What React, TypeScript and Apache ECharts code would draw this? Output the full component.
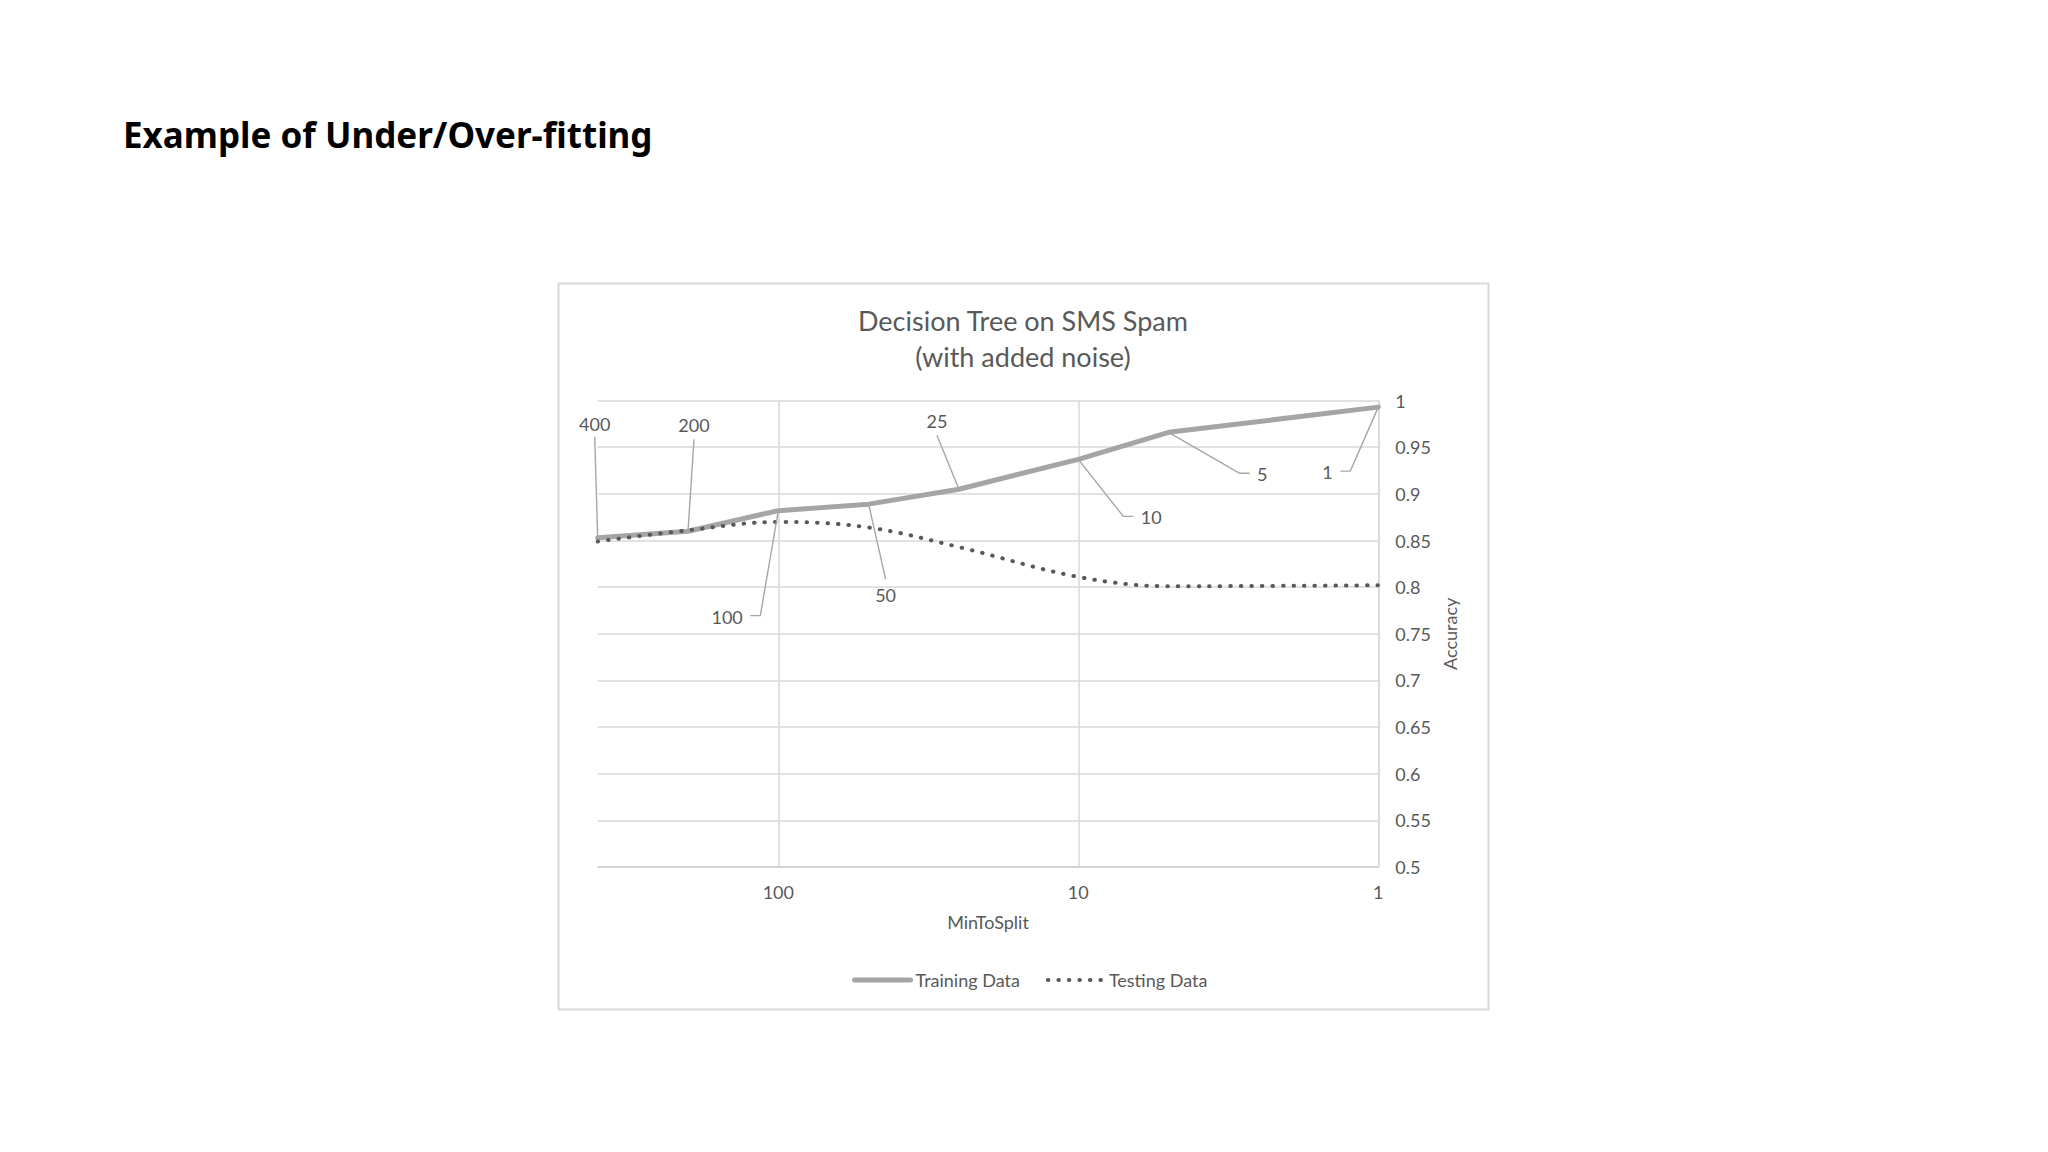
import React, { useEffect, useRef } from 'react';
import * as echarts from 'echarts';

// MinToSplit values (x, log scale, inverted) and accuracy per series
const minToSplit = [400, 200, 100, 50, 25, 10, 5, 1];
const trainingAcc = [0.853, 0.860, 0.882, 0.889, 0.905, 0.937, 0.966, 0.993];
const testingAcc = [0.849, 0.861, 0.870, 0.864, 0.843, 0.811, 0.801, 0.802];
const pointLabels = ['400', '200', '100', '50', '25', '10', '5', '1'];

const seriesNames = ['Training Data', 'Testing Data'];

// where each data label sits relative to its point (pixels)
type LabelPos = { kind: 'above' | 'below' | 'left' | 'right'; dx: number; dy: number; gap?: number };
const labelPlacement: LabelPos[] = [
  { kind: 'above', dx: -3, dy: -114, gap: 13 },
  { kind: 'above', dx: 6, dy: -106, gap: 14 },
  { kind: 'left', dx: -18, dy: 105 },
  { kind: 'below', dx: 17, dy: 91, gap: 16 },
  { kind: 'above', dx: -22, dy: -68, gap: 14 },
  { kind: 'right', dx: 45, dy: 57 },
  { kind: 'right', dx: 71, dy: 41 },
  { kind: 'left', dx: -28, dy: 64 },
];

const TEXT = '#595959';
const GRID = '#d9d9d9';
const TRAIN = '#a5a5a5';
const FONT = 'Lato';

const isPow10 = (v: number) => {
  const l = Math.log10(v);
  return Math.abs(l - Math.round(l)) < 1e-6;
};

export default function App() {
  const ref = useRef<HTMLDivElement>(null);

  useEffect(() => {
    if (!ref.current) return;
    const chart = echarts.init(ref.current, null, { renderer: 'svg' });

    const staticGraphic: any[] = [
      {
        type: 'text',
        x: 123,
        y: 134,
        style: {
          text: 'Example of Under/Over-fitting',
          fontFamily: '"Noto Sans"',
          fontWeight: 'bold',
          fontSize: 35,
          fill: '#000',
          verticalAlign: 'middle',
        },
      },
      {
        type: 'rect',
        shape: { x: 558.5, y: 283.5, width: 930, height: 726 },
        style: { fill: 'none', stroke: GRID, lineWidth: 2 },
        silent: true,
      },
    ];

    chart.setOption({
      animation: false,
      backgroundColor: '#fff',
      title: {
        text: 'Decision Tree on SMS Spam\n(with added noise)',
        left: 1023,
        top: 302,
        padding: 0,
        textAlign: 'center',
        textStyle: { fontFamily: FONT, fontSize: 27, fontWeight: 'normal', color: TEXT, lineHeight: 36 },
      },
      legend: {
        data: [
          { name: seriesNames[0], itemStyle: { opacity: 0 }, lineStyle: { width: 5, color: TRAIN } },
          { name: seriesNames[1], itemStyle: { opacity: 0 }, lineStyle: { width: 4, color: TEXT } },
        ],
        left: 852,
        top: 971,
        padding: 0,
        itemWidth: 56,
        itemHeight: 14,
        itemGap: 26,
        textStyle: { fontFamily: FONT, fontSize: 18, color: TEXT },
      },
      grid: { left: 597.7, right: 669.7, top: 400.6, bottom: 285 },
      xAxis: {
        type: 'log',
        logBase: 10,
        min: 1,
        max: 400,
        inverse: true,
        name: 'MinToSplit',
        nameLocation: 'middle',
        nameGap: 46,
        nameTextStyle: { fontFamily: FONT, fontSize: 18, color: TEXT },
        axisLine: { show: true, onZero: false, lineStyle: { color: '#cfcfcf', width: 1.5 } },
        axisTick: { show: false },
        axisLabel: {
          margin: 16,
          fontFamily: FONT,
          fontSize: 18,
          color: TEXT,
          formatter: (v: number) => (isPow10(v) ? String(Math.round(v)) : ''),
        },
        splitLine: { show: true, showMaxLine: false, lineStyle: { color: GRID, width: 1.5 } },
      },
      yAxis: {
        type: 'value',
        position: 'right',
        min: 0.5,
        max: 1,
        interval: 0.05,
        name: 'Accuracy',
        nameLocation: 'middle',
        nameRotate: 90,
        nameGap: 63,
        nameTextStyle: { fontFamily: FONT, fontSize: 18, color: TEXT },
        axisLine: { show: true, onZero: false, lineStyle: { color: GRID, width: 1.5 } },
        axisTick: { show: false },
        axisLabel: { margin: 17, fontFamily: FONT, fontSize: 18, color: TEXT },
        splitLine: { show: true, lineStyle: { color: GRID, width: 1.5 } },
      },
      series: [
        {
          name: seriesNames[0],
          type: 'line',
          data: minToSplit.map((m, i) => [m, trainingAcc[i]]),
          symbol: 'none',
          lineStyle: { color: TRAIN, width: 5, cap: 'round', join: 'round' },
          itemStyle: { color: TRAIN },
          z: 2,
        },
        {
          name: seriesNames[1],
          type: 'line',
          data: minToSplit.map((m, i) => [m, testingAcc[i]]),
          smooth: 0.35,
          symbol: 'none',
          lineStyle: { color: TEXT, width: 4, type: [0.5, 10], cap: 'round' },
          itemStyle: { color: TEXT },
          z: 3,
        },
      ],
      graphic: staticGraphic,
    });

    // data labels with leader lines for the training series
    const labelGraphic: any[] = [];
    minToSplit.forEach((m, i) => {
      const [px, py] = chart.convertToPixel({ gridIndex: 0 }, [m, trainingAcc[i]]) as number[];
      const p = labelPlacement[i];
      const tx = px + p.dx;
      const ty = py + p.dy;
      let points: number[][];
      let textStyle: any;
      if (p.kind === 'above' || p.kind === 'below') {
        const endY = p.kind === 'above' ? ty + (p.gap ?? 13) : ty - (p.gap ?? 16);
        points = [[px, py], [tx, endY]];
        textStyle = { x: tx, y: ty, align: 'center' };
      } else {
        const dir = p.kind === 'left' ? -1 : 1;
        points = [[px, py], [tx, ty], [tx + dir * 10, ty]];
        textStyle = { x: tx + dir * 17.5, y: ty + 1, align: p.kind === 'left' ? 'right' : 'left' };
      }
      labelGraphic.push({
        type: 'polyline',
        shape: { points },
        style: { stroke: '#a6a6a6', lineWidth: 1.4, fill: null },
        silent: true,
        z: 10,
      });
      labelGraphic.push({
        type: 'text',
        silent: true,
        z: 10,
        style: {
          text: pointLabels[i],
          x: textStyle.x,
          y: textStyle.y,
          align: textStyle.align,
          verticalAlign: 'middle',
          fontFamily: FONT,
          fontSize: 18,
          fill: TEXT,
        },
      });
    });

    chart.setOption({ graphic: [...staticGraphic, ...labelGraphic] });

    return () => chart.dispose();
  }, []);

  return (
    <div
      ref={ref}
      style={{ position: 'absolute', left: 0, top: 0, width: 2048, height: 1152, background: '#fff' }}
    />
  );
}
